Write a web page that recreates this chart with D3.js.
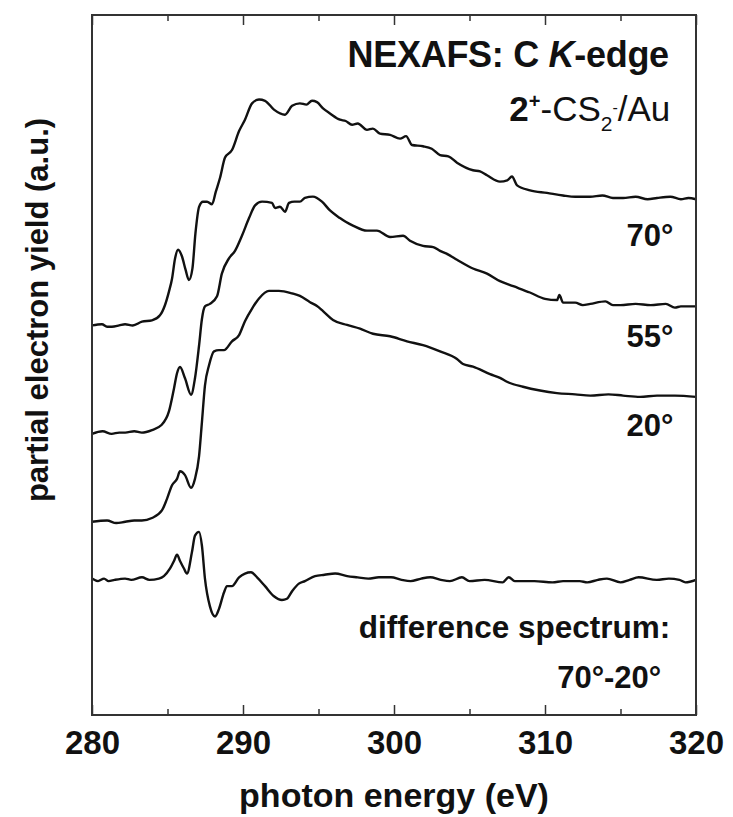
<!DOCTYPE html>
<html>
<head>
<meta charset="utf-8">
<script src="https://cdn.jsdelivr.net/npm/d3@7"></script>
<style>
  body { margin: 0; background: #fff; }
  svg text { font-family: "Liberation Sans", Arial, sans-serif; font-weight: bold; fill: #111; }
</style>
</head>
<body>
<div id="chart"></div>
<script>
// photon energies (eV) and normalised yields, each spectrum relative to its own pre-edge
const energy70 = [280, 280.66, 281.0, 281.32, 281.8, 282.19, 282.7, 283.31, 283.97, 284.5, 284.83, 285.1, 285.3, 285.5, 285.7, 285.95, 286.2, 286.42, 286.65, 286.85, 287.09, 287.35, 287.62, 287.95, 288.2, 288.48, 288.81, 289.27, 289.74, 290.13, 290.6, 291.06, 291.46, 292.05, 292.78, 293.25, 293.77, 294.2, 294.57, 294.9, 295.3, 295.76, 296.42, 296.8, 297.22, 297.6, 298.21, 298.6, 299.07, 299.74, 300.4, 300.8, 301.19, 301.92, 302.5, 303.05, 303.6, 304.17, 305.23, 305.7, 306.16, 307.02, 307.5, 307.81, 308.15, 309.01, 310.13, 311.19, 312.0, 312.98, 313.8, 314.5, 315.17, 316.0, 316.8, 317.42, 318.3, 319.0, 319.5, 320]
const yield70 = [0, 0.01, -0.01, -0.01, 0.0, 0.01, 0.0, 0.03, 0.04, 0.08, 0.16, 0.27, 0.37, 0.53, 0.60, 0.55, 0.44, 0.36, 0.45, 0.73, 0.94, 0.98, 0.98, 0.96, 1.06, 1.17, 1.33, 1.39, 1.54, 1.63, 1.76, 1.79, 1.78, 1.71, 1.67, 1.74, 1.76, 1.75, 1.78, 1.77, 1.72, 1.68, 1.63, 1.62, 1.59, 1.60, 1.55, 1.56, 1.52, 1.51, 1.48, 1.50, 1.43, 1.42, 1.40, 1.35, 1.34, 1.29, 1.23, 1.22, 1.19, 1.14, 1.15, 1.18, 1.11, 1.07, 1.05, 1.03, 1.02, 1.02, 1.03, 1.01, 1.01, 1.02, 1.00, 1.01, 1.02, 1.00, 1.01, 1.00]

const energy55 = [280, 280.7, 281.3, 281.8, 282.2, 282.8, 283.3, 283.97, 284.6, 285.1, 285.43, 285.63, 285.83, 286.16, 286.56, 286.82, 287.09, 287.28, 287.48, 287.81, 288.28, 288.6, 289.07, 289.47, 289.93, 290.4, 290.8, 291.26, 291.92, 292.12, 292.45, 292.78, 293.05, 293.4, 293.77, 294.1, 294.63, 295.23, 295.76, 296.42, 296.8, 297.28, 298.21, 298.87, 299.74, 300.6, 301.06, 301.92, 302.6, 303.05, 303.6, 304.17, 305.23, 306.16, 307.02, 307.9, 309.0, 310.0, 310.8, 310.95, 311.2, 312.0, 312.5, 313.0, 314.0, 314.5, 315.0, 316.0, 317.0, 318.0, 318.6, 319.0, 320]
const yield55 = [-0.01, 0.01, -0.01, 0.0, 0.0, 0.01, 0.0, 0.02, 0.06, 0.17, 0.35, 0.47, 0.52, 0.43, 0.30, 0.43, 0.69, 0.90, 1.00, 1.02, 1.08, 1.26, 1.38, 1.44, 1.56, 1.70, 1.80, 1.83, 1.82, 1.78, 1.79, 1.75, 1.82, 1.83, 1.83, 1.86, 1.87, 1.83, 1.76, 1.70, 1.67, 1.64, 1.60, 1.60, 1.55, 1.56, 1.52, 1.48, 1.47, 1.44, 1.41, 1.37, 1.30, 1.26, 1.20, 1.16, 1.11, 1.06, 1.05, 1.09, 1.03, 1.03, 1.01, 1.02, 1.04, 1.01, 1.01, 1.02, 1.01, 1.02, 0.99, 1.00, 1.00]

const energy20 = [280, 281, 281.6, 282.2, 282.8, 283.3, 283.97, 284.63, 284.96, 285.3, 285.63, 285.83, 286.16, 286.56, 286.82, 287.09, 287.28, 287.48, 287.75, 288.08, 288.41, 288.74, 289.27, 289.74, 290.13, 290.6, 291.06, 291.72, 292.38, 293.25, 293.77, 294.44, 294.9, 295.3, 295.96, 296.89, 297.75, 298.61, 299.74, 300.86, 301.92, 303.05, 304.17, 304.57, 305.23, 306.36, 307.02, 307.48, 308.54, 309.67, 310.79, 312.0, 313.0, 314.2, 315.17, 316.3, 317.42, 318.6, 320]
const yield20 = [0, 0.01, -0.01, 0, 0.01, 0.01, 0.03, 0.09, 0.18, 0.29, 0.34, 0.40, 0.37, 0.27, 0.34, 0.52, 0.79, 1.08, 1.24, 1.35, 1.36, 1.36, 1.43, 1.48, 1.59, 1.69, 1.77, 1.83, 1.83, 1.81, 1.79, 1.74, 1.71, 1.67, 1.60, 1.56, 1.53, 1.49, 1.47, 1.43, 1.40, 1.35, 1.29, 1.25, 1.23, 1.17, 1.14, 1.11, 1.07, 1.04, 1.02, 1.01, 1.00, 1.01, 1.00, 0.99, 1.00, 1.00, 0.99]

const energyDiff = [280, 280.4, 280.8, 281.1, 281.5, 282.19, 282.6, 283.31, 283.8, 284.43, 284.76, 285.17, 285.43, 285.63, 285.83, 286.09, 286.29, 286.62, 286.82, 287.09, 287.28, 287.48, 287.81, 288.15, 288.41, 288.74, 288.94, 289.27, 289.74, 290.13, 290.53, 290.93, 291.46, 292.05, 292.58, 292.91, 293.25, 293.7, 294.1, 294.77, 295.4, 296.1, 296.9, 297.6, 298.3, 299.0, 299.8, 300.5, 301.1, 301.8, 302.4, 303.1, 303.7, 304.5, 305.0, 306.0, 307.2, 307.6, 308.0, 309.3, 310.5, 311.2, 312.3, 312.8, 313.5, 314.1, 315.0, 315.6, 316.2, 317.4, 318.2, 318.9, 319.3, 320]
const yieldDiff = [0.01, -0.01, 0.01, -0.01, 0, 0.01, 0, 0.02, 0, 0.01, 0.03, 0.09, 0.15, 0.20, 0.15, 0.09, 0.05, 0.22, 0.35, 0.38, 0.27, 0.01, -0.21, -0.29, -0.23, -0.10, -0.05, -0.05, 0.02, 0.05, 0.06, 0.02, -0.05, -0.13, -0.16, -0.15, -0.09, -0.03, -0.01, 0.03, 0.04, 0.05, 0.03, 0.02, 0.01, 0.02, 0.02, 0.0, -0.01, 0.01, 0.02, 0.0, -0.01, 0.02, -0.01, 0.0, -0.02, 0.02, -0.01, -0.01, -0.02, -0.01, -0.01, -0.02, 0.0, 0.01, -0.02, 0.0, 0.02, 0, 0.01, 0, -0.02, 0]

// vertical stacking offsets (a.u.)
const offsets = [2.016, 1.167, 0.46, 0]

const angleLabels = ["70°", "55°", "20°"]
const angleLabelY = [0.63, 0.68, 0.68]   // label baselines, relative to each spectrum

const xTicks = [280, 290, 300, 310, 320]
const xMinorTicks = [285, 295, 305, 315]
const xDomain = [280, 320]
const yDomain = [-1.071, 4.476]

const width = 733, height = 817
const margin = {top: 15, right: 37, bottom: 102, left: 92}

const svg = d3.select("#chart").append("svg")
    .attr("width", width)
    .attr("height", height)

const x = d3.scaleLinear().domain(xDomain).range([margin.left, width - margin.right])
const y = d3.scaleLinear().domain(yDomain).range([height - margin.bottom, margin.top])

// spectra
const series = [
    {e: energy70, v: yield70},
    {e: energy55, v: yield55},
    {e: energy20, v: yield20},
    {e: energyDiff, v: yieldDiff}
]

const line = d3.line()
    .x(d => x(d[0]))
    .y(d => y(d[1]))
    .curve(d3.curveMonotoneX)

series.forEach((s, i) => {
    let pts = s.e.map((e, j) => [e, s.v[j] + offsets[i]])
    svg.append("path")
        .datum(pts)
        .attr("d", line)
        .attr("fill", "none")
        .attr("stroke", "#111")
        .attr("stroke-width", 2.4)
        .attr("stroke-linejoin", "round")
})

// axes, ticks pointing inwards
let bottomY = height - margin.bottom
let xAxis = svg.append("g")
    .attr("transform", `translate(0,${bottomY})`)
    .call(d3.axisBottom(x).tickValues(xTicks).tickSize(-10).tickPadding(16).tickFormat(d3.format("d")))
xAxis.select(".domain").remove()
xAxis.selectAll("text").style("font-size", "33px").style("font-family", null)
xAxis.selectAll("line").attr("stroke", "#333").attr("stroke-width", 1.5)

svg.append("g")
    .attr("transform", `translate(0,${bottomY})`)
    .call(d3.axisBottom(x).tickValues(xMinorTicks).tickSize(-6).tickFormat(""))
    .call(g => g.select(".domain").remove())
    .selectAll("line").attr("stroke", "#333").attr("stroke-width", 1.5)

svg.append("g")
    .attr("transform", `translate(0,${margin.top})`)
    .call(d3.axisTop(x).tickValues(xTicks).tickSize(-10).tickFormat(""))
    .call(g => g.select(".domain").remove())
    .selectAll("line").attr("stroke", "#333").attr("stroke-width", 1.5)

svg.append("g")
    .attr("transform", `translate(0,${margin.top})`)
    .call(d3.axisTop(x).tickValues(xMinorTicks).tickSize(-6).tickFormat(""))
    .call(g => g.select(".domain").remove())
    .selectAll("line").attr("stroke", "#333").attr("stroke-width", 1.5)

// frame
svg.append("rect")
    .attr("x", margin.left)
    .attr("y", margin.top)
    .attr("width", width - margin.left - margin.right)
    .attr("height", height - margin.top - margin.bottom)
    .attr("fill", "none")
    .attr("stroke", "#333")
    .attr("stroke-width", 2)

// axis titles
svg.append("text")
    .attr("x", (margin.left + width - margin.right) / 2)
    .attr("y", 807)
    .attr("text-anchor", "middle")
    .style("font-size", "34px")
    .text("photon energy (eV)")

svg.append("text")
    .attr("transform", `translate(48,${(margin.top + height - margin.bottom) / 2 - 55}) rotate(-90)`)
    .attr("text-anchor", "middle")
    .style("font-size", "31px")
    .text("partial electron yield (a.u.)")

// annotations
let rightX = x(318.2)

svg.append("text")
    .attr("x", rightX)
    .attr("y", 67)
    .attr("text-anchor", "end")
    .style("font-size", "36px")
    .style("letter-spacing", "-0.3px")
    .call(t => {
        t.append("tspan").text("NEXAFS: C ")
        t.append("tspan").style("font-style", "italic").text("K")
        t.append("tspan").text("-edge")
    })

let sample = svg.append("text")
    .attr("x", x(318.3))
    .attr("y", 121)
    .attr("text-anchor", "end")
    .style("font-size", "35px")
sample.append("tspan").text("2")
sample.append("tspan").attr("dy", -13).style("font-size", "20px").text("+")
sample.append("tspan").attr("dy", 13).style("font-weight", "normal").text("-CS")
sample.append("tspan").attr("dy", 10).style("font-size", "21px").style("font-weight", "normal").text("2")
sample.append("tspan").attr("dy", -18).style("font-size", "16px").style("font-weight", "normal").text("-")
sample.append("tspan").attr("dy", 8).style("font-weight", "normal").text("/Au")

angleLabels.forEach((lab, i) => {
    svg.append("text")
        .attr("x", x(318.5))
        .attr("y", y(angleLabelY[i] + offsets[i]))
        .attr("text-anchor", "end")
        .style("font-size", "31px")
        .text(lab)
})

svg.append("text")
    .attr("x", x(318.3))
    .attr("y", 638)
    .attr("text-anchor", "end")
    .style("font-size", "31.5px")
    .text("difference spectrum:")

svg.append("text")
    .attr("x", x(317.7))
    .attr("y", 688)
    .attr("text-anchor", "end")
    .style("font-size", "31px")
    .text("70°-20°")
</script>
</body>
</html>
